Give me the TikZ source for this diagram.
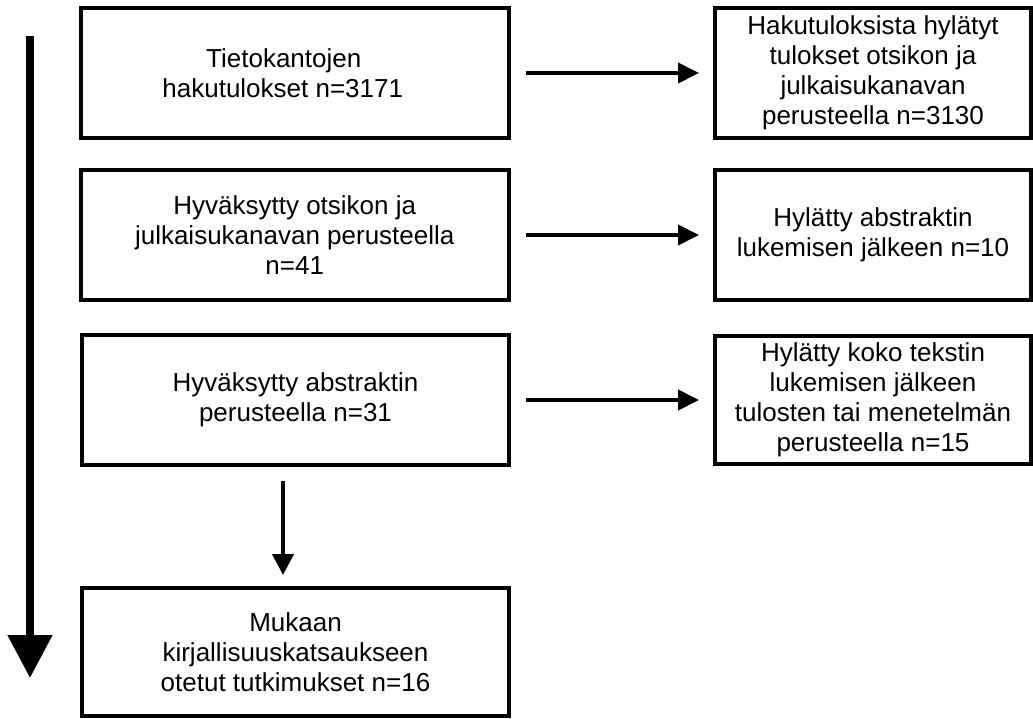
\documentclass[tikz,border=0pt]{standalone}
\usepackage{fontspec}
\setmainfont{Liberation Sans}
\usetikzlibrary{arrows.meta}
\begin{document}
\begin{tikzpicture}[x=1pt,y=-1pt,
  lbox/.style={draw=black,line width=4pt,minimum width=427.5pt,minimum height=130pt,inner sep=0pt,align=center,font=\fontsize{26}{30}\selectfont},
  rbox/.style={draw=black,line width=4pt,minimum width=316pt,minimum height=130pt,inner sep=0pt,align=center,font=\fontsize{26}{30}\selectfont},
  harrow/.style={line width=4pt,-{Triangle[length=21pt,width=20pt]},shorten <=15pt,shorten >=14pt},
  bigarrow/.style={line width=8pt,-{Triangle[length=43pt,width=43pt]}}
]
\useasboundingbox (0,0) rectangle (1033,718);
\node[lbox] (b1) at (294.75,73) {Tietokantojen\hspace*{22pt}\\hakutulokset n=3171\hspace*{24pt}};
\node[lbox] (b2) at (294.75,235) {Hyväksytty otsikon ja\\julkaisukanavan perusteella\\n=41};
\node[lbox] (b3) at (295.5,400) {Hyväksytty abstraktin\\perusteella n=31};
\node[lbox,minimum height=127.5pt] (b4) at (295.5,651.75) {Mukaan\\kirjallisuuskatsaukseen\\otetut tutkimukset n=16};
\node[rbox] (r1) at (873,73) {Hakutuloksista hylätyt\\tulokset otsikon ja\\julkaisukanavan\\perusteella n=3130};
\node[rbox] (r2) at (873,235) {Hylätty abstraktin\\lukemisen jälkeen n=10};
\node[rbox,minimum height=128pt] (r3) at (873,400) {Hylätty koko tekstin\\lukemisen jälkeen\\tulosten tai menetelmän\\perusteella n=15};
\draw[harrow] (b1.east) -- (r1.west);
\draw[harrow] (b2.east) -- (r2.west);
\draw[harrow] (b3.east) -- (r3.west);
\draw[line width=4pt,-{Triangle[length=21pt,width=21pt]},shorten <=14pt,shorten >=11pt] ([xshift=-12.5pt]b3.south) -- ([xshift=-12.5pt]b4.north);
\coordinate (flowtop) at (30,36);
\coordinate (flowend) at (30,678);
\draw[bigarrow] (flowtop) -- (flowend);
\end{tikzpicture}
\end{document}
